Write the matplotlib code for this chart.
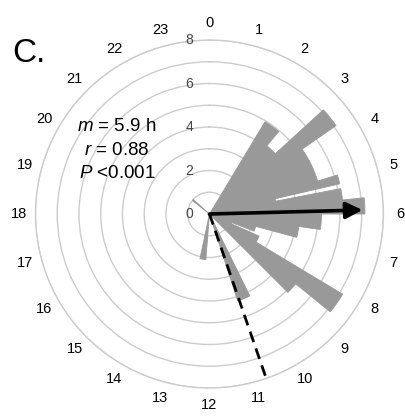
import numpy as np
import matplotlib
matplotlib.use('Agg')
import matplotlib.pyplot as plt

plt.rcParams['font.family'] = ['Liberation Sans', 'DejaVu Sans']
plt.rcParams['mathtext.fontset'] = 'custom'
plt.rcParams['mathtext.it'] = 'Liberation Sans:italic'
plt.rcParams['mathtext.rm'] = 'Liberation Sans'

bin_start = [2.07, 2.67, 3.17, 3.67, 4.87, 5.13, 5.27, 5.60, 6.00, 6.53, 7.00, 7.40, 7.60, 8.07, 8.60, 10.25, 12.30, 20.55]
bin_end   = [2.67, 3.17, 3.67, 4.87, 5.13, 5.27, 5.60, 6.00, 6.53, 7.00, 7.40, 7.60, 8.07, 8.60, 9.00, 10.80, 12.80, 20.80]
counts    = [4.95, 4.10, 7.10, 5.20, 6.15, 3.10, 6.15, 7.15, 5.15, 4.15, 2.20, 1.10, 2.50, 7.15, 5.10, 4.20, 2.10, 1.00]

hour_labels = [str(h) for h in range(24)]
ring_labels = [0, 2, 4, 6, 8]
r_max = 8

mean_hour = 5.9
mean_r = 0.88
dashed_hour = 10.73

def h2rad(h):
    return np.asarray(h, dtype=float) / 24.0 * 2 * np.pi

fig = plt.figure(figsize=(4.06, 4.19), dpi=100)
ax = fig.add_axes([0.0874, 0.074, 0.857, 0.8305], projection='polar')
ax.set_theta_zero_location('N')
ax.set_theta_direction(-1)
ax.set_axisbelow(True)

start = h2rad(bin_start)
end = h2rad(bin_end)
ax.bar(start, counts, width=end - start, align='edge', color='#999999',
       edgecolor='#999999', linewidth=0.6, zorder=2)

# mean vector and dashed reference line
ax.annotate('', xy=(h2rad(mean_hour), mean_r * r_max), xytext=(0, 0),
            arrowprops=dict(arrowstyle='-|>', lw=2.6, color='black',
                            mutation_scale=25, shrinkA=0, shrinkB=0),
            zorder=5)
ax.plot([h2rad(dashed_hour)] * 2, [0, r_max], color='black', lw=2.0,
        dashes=(4, 2.4), zorder=5)

ax.set_ylim(0, r_max)
ax.set_yticks(range(1, r_max + 1))
ax.set_yticklabels([])
ax.yaxis.grid(True, color='#cccccc', lw=1.0)
ax.xaxis.grid(False)
ax.spines['polar'].set_color('#cccccc')
ax.spines['polar'].set_linewidth(1.0)

ax.set_xticks(h2rad(range(24)))
ax.set_xticklabels(hour_labels)
ax.tick_params(axis='x', pad=5, labelsize=10.5, length=0)

for v in ring_labels:
    ax.annotate(str(v), xy=(0, v), xytext=(-20, 0), textcoords='offset pixels',
                ha='center', va='center', fontsize=10, color='#444444')

fig.text(0.03, 0.852, 'C.', fontsize=24, ha='left', va='baseline')
fig.text(0.288, 0.697, r'$m$ = 5.9 h', fontsize=13.5, ha='center', va='center')
fig.text(0.288, 0.640, r'$r$ = 0.88', fontsize=13.5, ha='center', va='center')
fig.text(0.288, 0.587, r'$P$ <0.001', fontsize=13.5, ha='center', va='center')

fig.savefig('out.png', dpi=100)
